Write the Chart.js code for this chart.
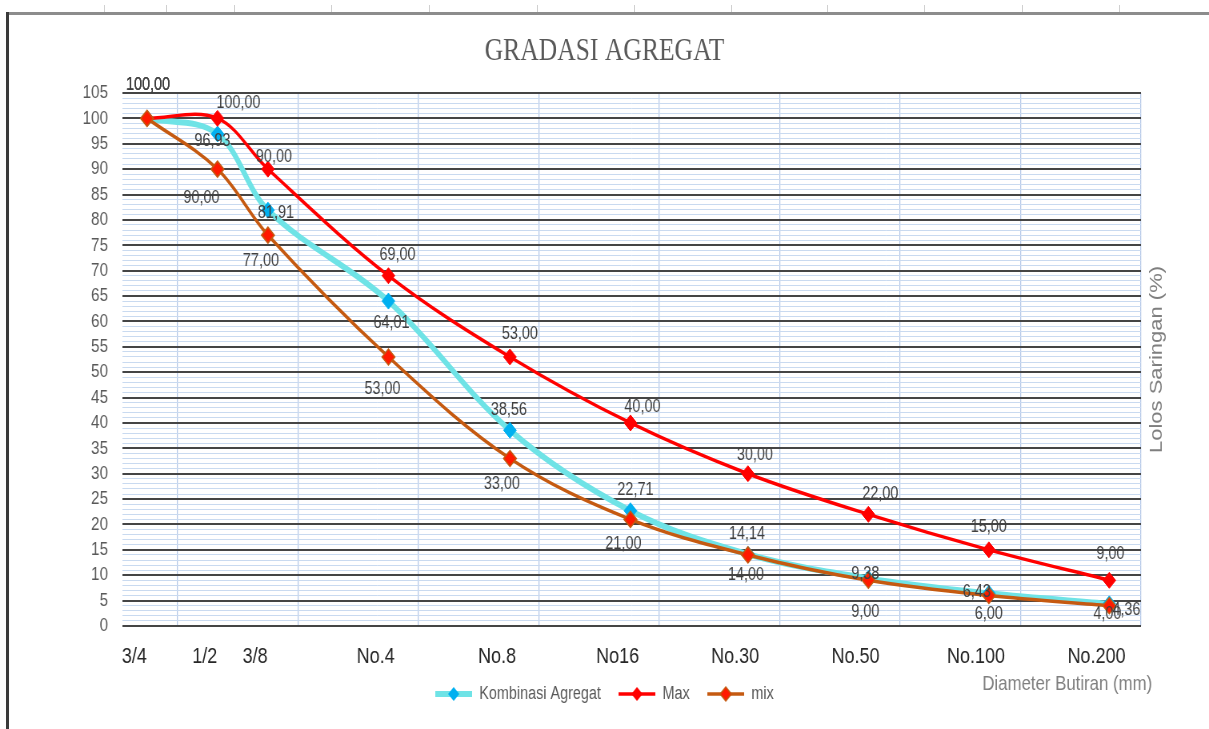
<!DOCTYPE html>
<html>
<head>
<meta charset="utf-8">
<script src="https://cdn.jsdelivr.net/npm/chart.js@4"></script>
<style>
html, body { margin:0; padding:0; background:#fff; overflow:hidden; width:1209px; height:729px; }
#wrap { position:absolute; left:0; top:0; width:1511px; height:729px; transform:scaleX(0.80013); transform-origin:0 0; }
#wrap canvas { display:block; }
.sheet { position:absolute; }
</style>
</head>
<body>
<div id="wrap"><canvas id="c"></canvas></div>
<div class="sheet" style="left:8px;top:12px;width:1201px;height:3px;background:#8c8c8c"></div>
<div class="sheet" style="left:6px;top:12px;width:3px;height:717px;background:#3a3a3a"></div>
<div id="cols"></div>
<script>
// ---- data ----
const categories = ['3/4', '1/2', '3/8', 'No.4', 'No.8', 'No16', 'No.30', 'No.50', 'No.100', 'No.200'];
const sieveSizes = [19.05, 12.7, 9.5, 4.75, 2.36, 1.18, 0.6, 0.3, 0.15, 0.075];
const kombinasi = [100, 96.93, 81.91, 64.01, 38.56, 22.71, 14.14, 9.38, 6.43, 4.36];
const maxSpec = [100, 100, 90, 69, 53, 40, 30, 22, 15, 9];
const mixSpec = [100, 90, 77, 53, 33, 21, 14, 9, 6, 4];
const gridSizes = [0.0625, 0.125, 0.25, 0.5, 1, 2, 4, 8, 16];
const seriesNames = ['Kombinasi Agregat', 'Max', 'mix'];
const xTitle = 'Diameter Butiran (mm)';
const yTitle = 'Lolos Saringan (%)';

// ---- label placement (reference pixels, relative to the point) ----
const kombOff = [[1,-33],[-5,7],[8,3],[3,22],[-1,-20],[5,-21],[-1,-20],[-3,-4],[-12,-1],[17,6]];
const maxOff  = [[1,-33],[21,-15],[6,-12],[9,-21],[10,-23],[12,-16],[7,-19],[12,-20],[0,-23],[1,-26]];
const mixOff  = [[1,-33],[-16,29],[-7,26],[-6,32],[-8,26],[-7,25],[-2,20],[-3,32],[0,18],[-2,8]];
const labelOffsets = [kombOff, maxOff, mixOff];

// sheet column markers (decoration)
const colTicks = [104,166,234,331,429,537,634,731,827,924,1022,1119];
const cols = document.getElementById('cols');
colTicks.forEach(x => {
  const d = document.createElement('div');
  d.className = 'sheet';
  d.style.cssText = `left:${x}px;top:5px;width:1px;height:7px;background:#d0d0d0`;
  cols.appendChild(d);
});

const SX = 1209 / 1511;
const FONT = "'Liberation Sans', Arial, sans-serif";
const fmt = v => v.toFixed(2).replace('.', ',');

function legendIcon(color, lw, fill, stroke) {
  const c = document.createElement('canvas');
  c.width = 46; c.height = 20;
  const g = c.getContext('2d');
  g.strokeStyle = color; g.lineWidth = lw;
  g.beginPath(); g.moveTo(0, 10); g.lineTo(46, 10); g.stroke();
  g.beginPath(); g.moveTo(23, 3); g.lineTo(30, 10); g.lineTo(23, 17); g.lineTo(16, 10); g.closePath();
  g.fillStyle = fill; g.fill();
  if (stroke) { g.strokeStyle = stroke; g.lineWidth = 1.5; g.stroke(); }
  return c;
}
const legendIcons = [
  legendIcon('#6fe3e6', 6, '#00b0f0'),
  legendIcon('#ff0000', 3.5, '#ff0000'),
  legendIcon('#c55a11', 3.5, '#ff1a00', '#c55a11')
];

const toPts = arr => arr.map((v, i) => ({ x: sieveSizes[i], y: v }));

const overlayText = {
  id: 'overlayText',
  afterDatasetsDraw(chart) {
    const { ctx, chartArea } = chart;
    ctx.save();
    ctx.font = `18px ${FONT}`;
    ctx.fillStyle = '#404040';
    ctx.textAlign = 'center';
    ctx.textBaseline = 'middle';
    chart.data.datasets.forEach((ds, di) => {
      const meta = chart.getDatasetMeta(di);
      meta.data.forEach((pt, i) => {
        const o = labelOffsets[di][i];
        ctx.fillText(fmt(ds.data[i].y), pt.x + o[0] / SX, pt.y + o[1]);
      });
    });
    // x axis title (right aligned under the axis)
    ctx.font = `21px ${FONT}`;
    ctx.fillStyle = '#7f7f7f';
    ctx.textAlign = 'right';
    ctx.fillText(xTitle, chartArea.right + 14, chartArea.bottom + 58);
    // y axis title on the right, reading upwards
    ctx.textAlign = 'center';
    ctx.translate(chartArea.right + 20, (chartArea.top + chartArea.bottom) / 2);
    ctx.rotate(-Math.PI / 2);
    ctx.font = `22px ${FONT}`;
    ctx.fillText(yTitle, 0, 0);
    ctx.restore();
  }
};

new Chart(document.getElementById('c'), {
  type: 'line',
  data: {
    datasets: [
      { label: seriesNames[0], data: toPts(kombinasi), borderColor: '#6fe3e6', borderWidth: 6,
        pointStyle: 'rectRot', pointRadius: 8, pointBackgroundColor: '#00b0f0', pointBorderColor: '#00b0f0',
        pointBorderWidth: 1, tension: 0.35, fill: false, order: 3 },
      { label: seriesNames[1], data: toPts(maxSpec), borderColor: '#ff0000', borderWidth: 3.5,
        pointStyle: 'rectRot', pointRadius: 8, pointBackgroundColor: '#ff0000', pointBorderColor: '#ff0000',
        pointBorderWidth: 1, tension: 0.35, fill: false, order: 2 },
      { label: seriesNames[2], data: toPts(mixSpec), borderColor: '#c55a11', borderWidth: 3.5,
        pointStyle: 'rectRot', pointRadius: 8, pointBackgroundColor: '#ff1a00', pointBorderColor: '#c55a11',
        pointBorderWidth: 1.5, tension: 0.35, fill: false, order: 1 }
    ]
  },
  options: {
    responsive: true,
    maintainAspectRatio: false,
    animation: false,
    devicePixelRatio: 1,
    events: [],
    layout: { padding: { left: 0, right: 0, top: 0, bottom: 16 } },
    scales: {
      x: {
        type: 'logarithmic',
        reverse: true,
        min: 0.0625,
        max: 22,
        afterBuildTicks: s => {
          s.ticks = [...gridSizes, ...sieveSizes].sort((a, b) => a - b).map(v => ({ value: v }));
        },
        afterFit: s => { s.height = 37; },
        grid: {
          drawTicks: false,
          color: c => (c.tick && gridSizes.includes(c.tick.value)) ? '#b4c7e7' : 'rgba(0,0,0,0)',
          lineWidth: 1.25
        },
        border: { display: false },
        ticks: {
          autoSkip: false,
          maxRotation: 0,
          minRotation: 0,
          padding: 17.5,
          labelOffset: -16,
          color: '#262626',
          font: { family: FONT, size: 22.5 },
          callback: (v, i, t) => {
            const k = sieveSizes.indexOf(t[i].value);
            return k >= 0 ? categories[k] : '';
          }
        }
      },
      y: {
        min: 0,
        max: 105,
        afterFit: s => { s.width = 152.5; },
        grid: {
          drawTicks: false,
          color: c => (c.tick.value % 5 === 0) ? '#454545' : '#c9daf0',
          lineWidth: c => (c.tick.value % 5 === 0) ? 2 : 1
        },
        border: { display: false },
        ticks: {
          stepSize: 1,
          maxTicksLimit: 200,
          autoSkip: false,
          padding: 17.5,
          color: '#595959',
          font: { family: FONT, size: 19 },
          callback: v => (v % 5 === 0) ? String(v) : ''
        }
      },
      yRight: {
        position: 'right',
        min: 0,
        max: 105,
        afterFit: s => { s.width = 85; },
        grid: { display: false, drawTicks: false },
        border: { display: false },
        ticks: { display: false }
      }
    },
    plugins: {
      legend: {
        position: 'bottom',
        labels: {
          usePointStyle: true,
          pointStyleWidth: 46,
          padding: 22,
          color: '#595959',
          font: { family: FONT, size: 18 },
          sort: (a, b) => a.datasetIndex - b.datasetIndex,
          generateLabels: chart => Chart.defaults.plugins.legend.labels.generateLabels(chart)
            .map(it => Object.assign({}, it, { pointStyle: legendIcons[it.datasetIndex] }))
        }
      },
      title: {
        display: true,
        text: 'GRADASI AGREGAT',
        color: '#595959',
        font: { family: "'Liberation Serif', 'Times New Roman', serif", size: 32, weight: 'normal' },
        padding: { top: 32.8, bottom: 21.8 }
      },
      tooltip: { enabled: false }
    }
  },
  plugins: [overlayText]
});
</script>
</body>
</html>
